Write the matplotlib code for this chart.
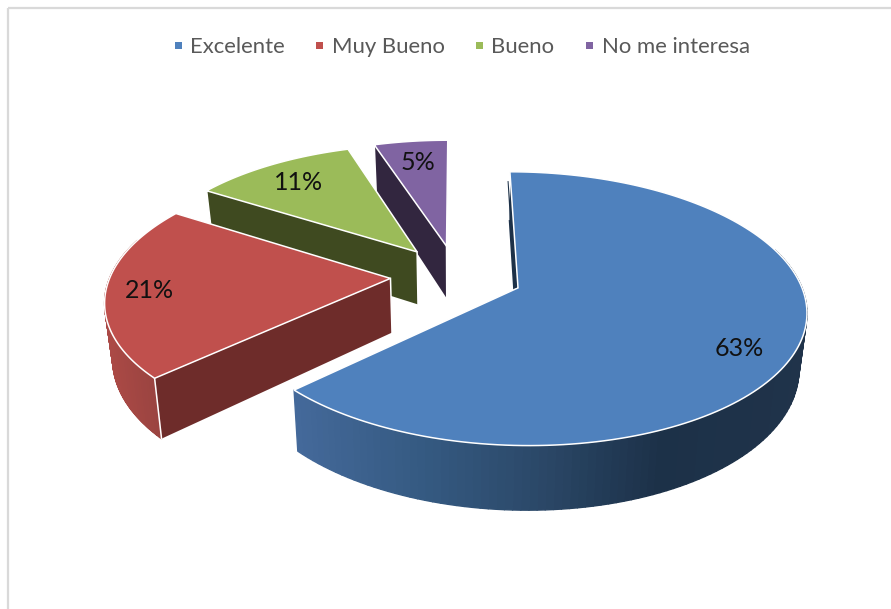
import matplotlib
matplotlib.use('Agg')
import matplotlib.pyplot as plt
from matplotlib.collections import PolyCollection
from matplotlib.colors import to_rgb
from matplotlib.patches import Polygon, Rectangle
import numpy as np

# Data
categories = ['Excelente', 'Muy Bueno', 'Bueno', 'No me interesa']
values = [63, 21, 11, 5]

# Colours: top face, cut face, outer wall (left to right on screen)
top_colors = ['#4f81bd', '#c0504d', '#9bbb59', '#8064a2']
cut_colors = ['#1d3148', '#6e2c2a', '#3f4a20', '#32263f']
wall_stops = [
    [(295, '#44699a'), (420, '#355a82'), (540, '#2b4868'), (660, '#1c3148'), (810, '#20334a')],
    [(100, '#ad4a46'), (160, '#984340')],
    [(200, '#3f4a20'), (420, '#3f4a20')],
    [(360, '#32263f'), (450, '#32263f')],
]

# Layout in pixels of the 891x609 picture
legend_marker_x = [178, 319, 479, 589]
legend_text_x = [190, 332, 491, 602]
label_pos = [(739, 348), (149, 290), (299, 182), (418, 162)]

# Fake 3D camera
X0, Y0 = 456.5, 275.5
A, B = 280, 130
PERSP = 0.15
EXPLODE = 0.236
DEPTH = 54
SHRINK = 0.977


def project(u, v):
    w = 1 + PERSP * v
    return X0 + A * u / w, Y0 - B * v / w


def project_low(u, v):
    sx, sy = project(u, v)
    w = 1 + PERSP * v
    return X0 + (sx - X0) * SHRINK, sy + DEPTH / w


def wall_color(stops, x):
    xs = [s[0] for s in stops]
    rgb = np.array([to_rgb(s[1]) for s in stops])
    return [np.interp(x, xs, rgb[:, i]) for i in range(3)]


fig = plt.figure(figsize=(8.91, 6.09), dpi=100)
ax = fig.add_axes([0, 0, 1, 1])
ax.set_xlim(0, 891)
ax.set_ylim(609, 0)
ax.axis('off')

# Chart frame, only the top and left sides are inside the picture
ax.plot([8, 891], [8, 8], color='#d9d9d9', linewidth=1.6, solid_capstyle='butt')
ax.plot([8, 8], [8, 609], color='#d9d9d9', linewidth=1.6, solid_capstyle='butt')

shares = np.array(values) / sum(values)
ends = np.cumsum(shares) * 2 * np.pi
starts = ends - shares * 2 * np.pi

# Back slices first so the front ones paint over them
for i in [3, 2, 1, 0]:
    z = 2 + 4 - i
    a0, a1 = starts[i], ends[i]
    mid = (a0 + a1) / 2
    du, dv = EXPLODE * np.sin(mid), EXPLODE * np.cos(mid)
    t = np.linspace(a0, a1, 160)
    u = du + np.sin(t)
    v = dv + np.cos(t)

    # cut face on the leading edge, the other one looks away from us
    ue, ve = du + np.sin(a0), dv + np.cos(a0)
    pts = [project(du, dv), project(ue, ve), project_low(ue, ve), project_low(du, dv)]
    ax.add_patch(Polygon(pts, closed=True, facecolor=cut_colors[i], edgecolor='none', zorder=z))

    # outer wall, small quads with thick edges so no seams show
    quads = []
    cols = []
    for j in range(len(t) - 1):
        if np.cos(t[j]) > 0.3:
            continue  # back of the rim, hidden by the top face
        p0 = project(u[j], v[j])
        p1 = project(u[j + 1], v[j + 1])
        q1 = project_low(u[j + 1], v[j + 1])
        q0 = project_low(u[j], v[j])
        quads.append([p0, p1, q1, q0])
        cols.append(wall_color(wall_stops[i], (p0[0] + p1[0]) / 2))
    if quads:
        ax.add_collection(PolyCollection(quads, facecolors=cols, edgecolors=cols, linewidths=1.0, zorder=z))

    # white corner lines
    for p, q in [(project(ue, ve), project_low(ue, ve)), (project(du, dv), project_low(du, dv))]:
        ax.plot([p[0], q[0]], [p[1], q[1]], color='white', linewidth=1.1, zorder=z + 0.2)

    # top face
    sx, sy = project(np.r_[du, u], np.r_[dv, v])
    ax.add_patch(Polygon(np.c_[sx, sy], closed=True, facecolor=top_colors[i], edgecolor='white',
                         linewidth=1.1, zorder=z + 0.5))

# Dark sliver left of the blue slice's first edge
mid0 = (starts[0] + ends[0]) / 2
du, dv = EXPLODE * np.sin(mid0), EXPLODE * np.cos(mid0)
ap = np.array(project(du, dv))
rim = np.array(project(du + np.sin(starts[0]), dv + np.cos(starts[0])))
s0 = rim + 0.08 * (ap - rim)
ax.add_patch(Polygon([s0 + [-2, 0], ap + [-1.5, 0], ap + [-4, 0], s0 + [-3, 0]], closed=True,
                     facecolor=cut_colors[0], edgecolor='none', zorder=8))

# Percent labels
for v_, pos in zip(values, label_pos):
    ax.text(pos[0], pos[1], f'{v_}%', fontsize=18, family='Lato', color='#111111',
            ha='center', va='center', zorder=10)

# Legend
for name, col, mx, tx in zip(categories, top_colors, legend_marker_x, legend_text_x):
    ax.add_patch(Rectangle((mx - 3.5, 42), 7, 7, facecolor=col, edgecolor='none'))
    ax.text(tx, 47, name, fontsize=15.9, family='Lato', color='#595959', ha='left', va='center')

fig.savefig('out.png', dpi=100)
